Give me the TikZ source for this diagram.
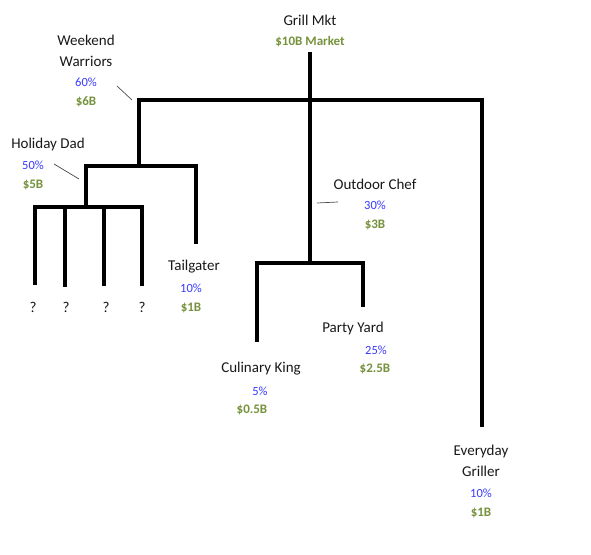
\documentclass[tikz,border=0pt]{standalone}
\usepackage{fontspec}
\setmainfont{Carlito}
\definecolor{pblue}{HTML}{3A3AFF}
\definecolor{agreen}{HTML}{76923C}
\begin{document}
\begin{tikzpicture}[x=1pt,y=-1pt,
  lbl/.style={font=\fontsize{15}{20.5}\selectfont, text=black!90, inner sep=0pt, align=center},
  pct/.style={font=\fontsize{12.5}{14}\selectfont, text=pblue, inner sep=0pt},
  amt/.style={font=\bfseries\fontsize{13}{14}\selectfont, text=agreen, inner sep=0pt},
  tree/.style={line width=3.3pt, line join=miter},
  tick/.style={line width=0.7pt, draw=black!70}]
\useasboundingbox[fill=white] (0,0) rectangle (591,554);
% labels
\node[lbl] (grill) at (310,20) {Grill Mkt};
\node[amt] (grillamt) at (310,42) {\$10B Market};
\node[lbl] (ww) at (86,51) {Weekend\\Warriors};
\node[pct] (wwp) at (86,82) {60\%};
\node[amt] (wwa) at (86,102) {\$6B};
\node[lbl] (hd) at (48,144) {Holiday Dad};
\node[pct] (hdp) at (33,165) {50\%};
\node[amt] (hda) at (33,185) {\$5B};
\node[lbl] (oc) at (375,184) {Outdoor Chef};
\node[pct] (ocp) at (375,205) {30\%};
\node[amt] (oca) at (375,225) {\$3B};
\node[lbl] (tg) at (194,267) {Tailgater};
\node[pct] (tgp) at (191,288) {10\%};
\node[amt] (tga) at (191,308) {\$1B};
\node[lbl] (py) at (353,328) {Party Yard};
\node[pct] (pyp) at (376,350) {25\%};
\node[amt] (pya) at (375,369) {\$2.5B};
\node[lbl] (ck) at (261,369) {Culinary King};
\node[pct] (ckp) at (260,391) {5\%};
\node[amt] (cka) at (252,410) {\$0.5B};
\node[lbl] (eg) at (481,461) {Everyday\\Griller};
\node[pct] (egp) at (481,493) {10\%};
\node[amt] (ega) at (481,513) {\$1B};
\node[lbl] (q1) at (33,307) {?};
\node[lbl] (q2) at (66,307) {?};
\node[lbl] (q3) at (106,307) {?};
\node[lbl] (q4) at (142,307) {?};
% tree coordinates
\coordinate (rootT) at (310,52);
\coordinate (rootB) at (310,263);
\coordinate (wwB) at (139,166);
\coordinate (wwT) at (139,100);
\coordinate (egT) at (482,100);
\coordinate (egB) at (482,427);
\coordinate (ckB) at (257,342);
\coordinate (ckT) at (257,263);
\coordinate (pyT) at (363,263);
\coordinate (pyB) at (363,307);
\coordinate (hdL) at (86,207);
\coordinate (hdLT) at (86,166);
\coordinate (tgT) at (196,166);
\coordinate (tgB) at (196,244);
\coordinate (a1B) at (35,285);
\coordinate (a1T) at (35,207);
\coordinate (a4T) at (142,207);
\coordinate (a4B) at (142,286);
\coordinate (a2T) at (65,207);
\coordinate (a2B) at (65,287);
\coordinate (a3T) at (104,207);
\coordinate (a3B) at (104,286);
\draw[tree] (rootT) -- (rootB);
\draw[tree] (wwB) -- (wwT) -- (egT) -- (egB);
\draw[tree] (ckB) -- (ckT) -- (pyT) -- (pyB);
\draw[tree] (hdL) -- (hdLT) -- (tgT) -- (tgB);
\draw[tree] (a1B) -- (a1T) -- (a4T) -- (a4B);
\draw[tree] (a2T) -- (a2B);
\draw[tree] (a3T) -- (a3B);
% ticks
\coordinate (t1a) at (117,86); \coordinate (t1b) at (132,100);
\coordinate (t2a) at (54,164); \coordinate (t2b) at (79,179);
\coordinate (t3a) at (317,203); \coordinate (t3b) at (338,202);
\draw[tick] (t1a) -- (t1b);
\draw[tick] (t2a) -- (t2b);
\draw[tick] (t3a) -- (t3b);
\end{tikzpicture}
\end{document}
